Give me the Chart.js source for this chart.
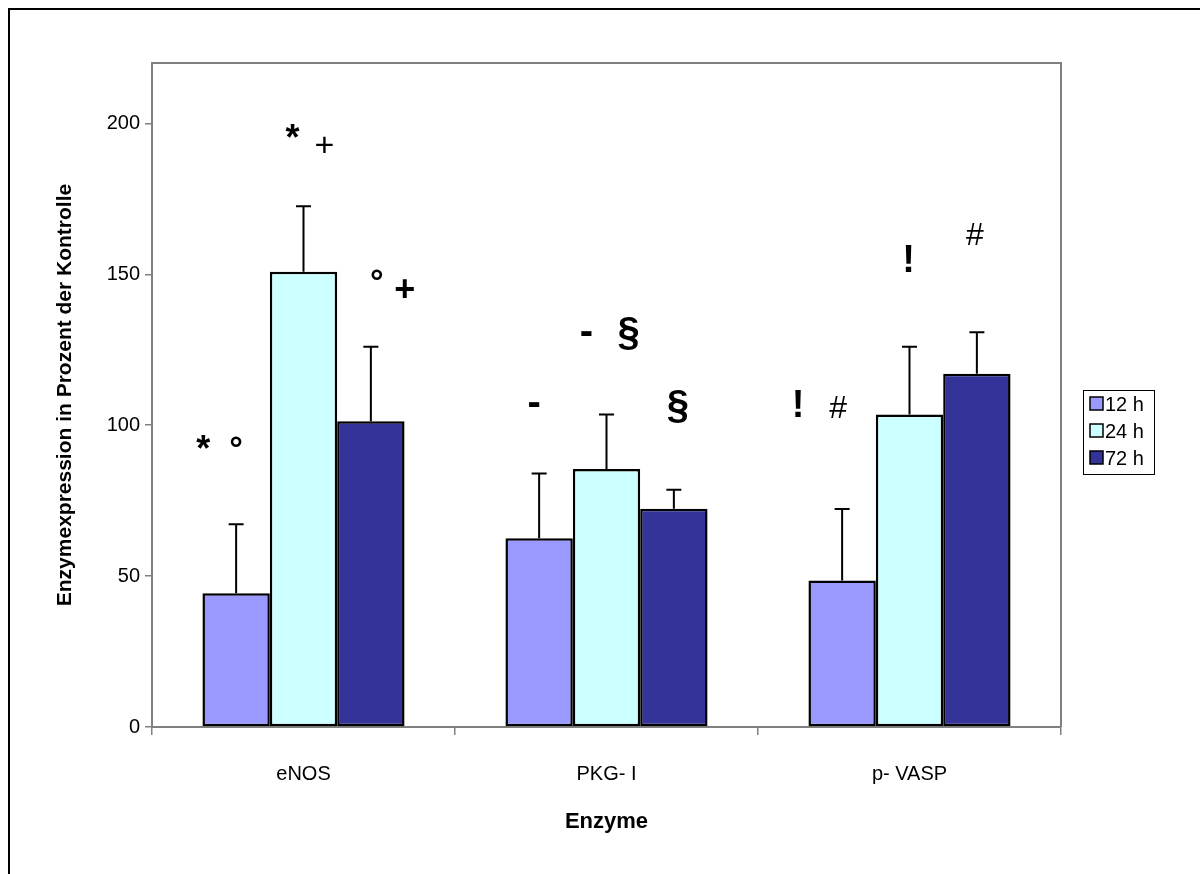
<!DOCTYPE html>
<html><head><meta charset="utf-8">
<script src="https://cdn.jsdelivr.net/npm/chart.js@4"></script>
<style>html,body{margin:0;padding:0;background:#fff}canvas{display:block}</style>
</head><body>
<canvas id="c" width="1200" height="874"></canvas>
<script>
// ---- data ----
const categories = ['eNOS', 'PKG- I', 'p- VASP'];
const seriesLabels = ['12 h', '24 h', '72 h'];
const values12 = [44.3, 62.5, 48.5];
const values24 = [150.8, 85.5, 103.5];
const values72 = [101.3, 72.3, 117.0];
const errors12 = [22.9, 21.5, 23.7];
const errors24 = [21.7, 18.0, 22.5];
const errors72 = [24.7, 6.3, 13.8];
const yTicks = [0, 50, 100, 150, 200];
const yMax = 220;
// significance markers: text, category, series, value
const annoText = ['*', '°', '*', '+', '°', '+', '-', '-', '§', '§', '!', '#', '!', '#'];
const annoCategory = [0, 0, 0, 0, 0, 0, 1, 1, 1, 1, 2, 2, 2, 2];
const annoSeries = [0, 0, 1, 1, 2, 2, 0, 1, 1, 2, 0, 0, 1, 2];
const annoValue = [94.3, 94.7, 197.6, 192.9, 149.9, 145.3, 106.9, 130.4, 130.4, 106.2, 107.2, 105.9, 155.2, 163.5];

// ---- styles ----
const FONT = "'Liberation Sans', Arial, sans-serif";
const colors = ['#9999FF', '#CCFFFF', '#333399'];
const annoDx = [-33, 0, -11, 21, 6, 34, -5, -20, 22, 4, -44, -4, -1, -2];
const annoFont = ['bold 36px', 'bold 34px', 'bold 36px', '34px', 'bold 34px', 'bold 36px', 'bold 40px', 'bold 40px', 'bold 40px', 'bold 40px', 'bold 38px', '32px', 'bold 38px', '32px'];

const errorSets = [errors12, errors24, errors72];

const framePlugin = {
  id: 'frame',
  beforeDraw(chart) {
    const ctx = chart.ctx;
    ctx.save();
    ctx.fillStyle = '#fff';
    ctx.fillRect(0, 0, chart.width, chart.height);
    ctx.strokeStyle = '#000';
    ctx.lineWidth = 2;
    ctx.beginPath();
    ctx.moveTo(9, chart.height);
    ctx.lineTo(9, 9);
    ctx.lineTo(chart.width, 9);
    ctx.stroke();
    ctx.restore();
  },
  afterDraw(chart) {
    const a = chart.chartArea, ctx = chart.ctx;
    ctx.save();
    ctx.strokeStyle = '#808080';
    ctx.lineWidth = 2;
    ctx.beginPath();
    ctx.moveTo(a.left, a.top);
    ctx.lineTo(a.right, a.top);
    ctx.lineTo(a.right, a.bottom);
    ctx.stroke();
    ctx.restore();
  }
};

const errorPlugin = {
  id: 'errorbars',
  afterDatasetsDraw(chart) {
    const ctx = chart.ctx, y = chart.scales.y;
    ctx.save();
    ctx.strokeStyle = '#000';
    ctx.lineWidth = 2;
    chart.data.datasets.forEach((ds, di) => {
      const meta = chart.getDatasetMeta(di);
      meta.data.forEach((bar, i) => {
        const top = y.getPixelForValue(ds.data[i] + errorSets[di][i]);
        ctx.beginPath();
        ctx.moveTo(bar.x, bar.y);
        ctx.lineTo(bar.x, top);
        ctx.moveTo(bar.x - 7.5, top);
        ctx.lineTo(bar.x + 7.5, top);
        ctx.stroke();
      });
    });
    ctx.restore();
  }
};

const annoPlugin = {
  id: 'annos',
  afterDatasetsDraw(chart) {
    const ctx = chart.ctx, y = chart.scales.y;
    ctx.save();
    ctx.fillStyle = '#000';
    ctx.textAlign = 'center';
    ctx.textBaseline = 'alphabetic';
    annoText.forEach((t, k) => {
      const bar = chart.getDatasetMeta(annoSeries[k]).data[annoCategory[k]];
      ctx.font = annoFont[k] + ' ' + FONT;
      const m = ctx.measureText(t);
      const cy = y.getPixelForValue(annoValue[k]);
      const yy = cy + (m.actualBoundingBoxAscent - m.actualBoundingBoxDescent) / 2;
      ctx.fillText(t, bar.x + annoDx[k], yy);
    });
    ctx.restore();
  }
};

const legendPlugin = {
  id: 'customLegend',
  afterDraw(chart) {
    const ctx = chart.ctx;
    const bx = 1083, by = 390, bw = 71, bh = 84;
    ctx.save();
    ctx.strokeStyle = '#000';
    ctx.lineWidth = 1;
    ctx.strokeRect(bx + 0.5, by + 0.5, bw, bh);
    ctx.font = '20px ' + FONT;
    ctx.textBaseline = 'middle';
    ctx.textAlign = 'left';
    chart.data.datasets.forEach((ds, i) => {
      const cy = by + 14 + i * 27;
      ctx.fillStyle = ds.backgroundColor;
      ctx.fillRect(bx + 7, cy - 7, 13, 13);
      ctx.lineWidth = 1.5;
      ctx.strokeStyle = '#000';
      ctx.strokeRect(bx + 7, cy - 7, 13, 13);
      ctx.fillStyle = '#000';
      ctx.fillText(ds.label, bx + 22, cy + 1);
    });
    ctx.restore();
  }
};

const mk = (label, data, color) => ({
  label, data,
  backgroundColor: color,
  borderColor: '#000',
  borderWidth: 2.5,
  borderSkipped: false,
  categoryPercentage: 0.667,
  barPercentage: 1.0
});

new Chart(document.getElementById('c'), {
  type: 'bar',
  data: {
    labels: categories,
    datasets: [
      mk(seriesLabels[0], values12, colors[0]),
      mk(seriesLabels[1], values24, colors[1]),
      mk(seriesLabels[2], values72, colors[2])
    ]
  },
  options: {
    responsive: false,
    devicePixelRatio: 1,
    animation: false,
    layout: { padding: { left: 10, top: 63, right: 139, bottom: 0 } },
    plugins: { legend: { display: false }, tooltip: { enabled: false } },
    scales: {
      x: {
        grid: { display: true, drawOnChartArea: false, offset: true, tickLength: 8, color: '#808080', lineWidth: 1.5 },
        border: { color: '#808080', width: 2 },
        ticks: { color: '#000', font: { family: FONT, size: 20 }, padding: 27, maxRotation: 0 },
        title: { display: true, text: 'Enzyme', color: '#000', font: { family: FONT, size: 22, weight: 'bold' }, padding: { top: 0, bottom: 39 } },
        afterFit(s) { s.height = 147; }
      },
      y: {
        min: 0, max: yMax,
        afterBuildTicks(s) { s.ticks = yTicks.map(v => ({ value: v })); },
        grid: { display: true, drawOnChartArea: false, tickLength: 7, color: '#808080', lineWidth: 1.5 },
        border: { color: '#808080', width: 2 },
        ticks: { color: '#000', font: { family: FONT, size: 20 }, padding: 5 },
        title: { display: true, text: 'Enzymexpression in Prozent der Kontrolle', color: '#000', font: { family: FONT, size: 21, weight: 'bold' }, padding: { top: 43, bottom: 0 } },
        afterFit(s) { s.width = 142; }
      }
    }
  },
  plugins: [framePlugin, errorPlugin, annoPlugin, legendPlugin]
});
</script>
</body></html>
